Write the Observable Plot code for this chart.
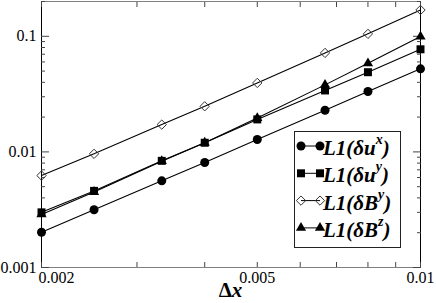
<!DOCTYPE html>
<html><head><meta charset="utf-8">
<script src="https://cdn.jsdelivr.net/npm/d3@7"></script>
<script src="https://cdn.jsdelivr.net/npm/@observablehq/plot@0.6"></script>
<style>
html,body{margin:0;padding:0;background:#fff;}
#chart{width:436px;height:303px;}
</style></head><body><div id="chart"></div>
<script>
// ---- data ----
const deltaX = [0.002, 0.0025, 0.003333, 0.004, 0.005, 0.006667, 0.008, 0.01];
const L1_ux = [0.00202, 0.00316, 0.00562, 0.0081, 0.0128, 0.0229, 0.0333, 0.0523];
const L1_uy = [0.00300, 0.00460, 0.00837, 0.0120, 0.0191, 0.0340, 0.0489, 0.0772];
const L1_By = [0.00624, 0.00962, 0.01723, 0.0248, 0.0395, 0.0718, 0.105, 0.169];
const L1_Bz = [0.00288, 0.00450, 0.00832, 0.0120, 0.0196, 0.0380, 0.0584, 0.0994];
const seriesPrefix = ["L1(", "L1(", "L1(", "L1("];
const seriesBase = ["δu", "δu", "δB", "δB"];
const seriesSup = ["x", "y", "y", "z"];
const xTickValues = [0.002, 0.005, 0.01];
const xTickLabels = ["0.002", "0.005", "0.01"];
const xMinorTicks = [0.003, 0.004, 0.006, 0.007, 0.008, 0.009];
const yTickValues = [0.001, 0.01, 0.1];
const yTickLabels = ["0.001", "0.01", "0.1"];
const yMinorTicks = [0.002,0.003,0.004,0.005,0.006,0.007,0.008,0.009,0.02,0.03,0.04,0.05,0.06,0.07,0.08,0.09,0.2];
const xDomain = [0.002, 0.01];
const yDomain = [0.001, 0.2];
const xLabelMain = "Δ";
const xLabelVar = "x";

// ---- styles ----
const seriesValues = [L1_ux, L1_uy, L1_By, L1_Bz];
const styles = [
  {symbol: "circle", r: 4.5, fill: "#000", stroke: "none"},
  {symbol: "square", r: 4.5, fill: "#000", stroke: "none"},
  {symbol: "diamond2", r: 4.2, fill: "none", stroke: "#333", strokeWidth: 1},
  {symbol: "triangle", r: 3.8, fill: "#000", stroke: "none"}
];
const d3Symbols = {circle: d3.symbolCircle, square: d3.symbolSquare, diamond2: d3.symbolDiamond2, triangle: d3.symbolTriangle};

const tables = seriesValues.map((vals, s) => deltaX.map((x, i) => ({x, y: vals[i], s})));
const serif = "'Liberation Serif', 'Times New Roman', serif";

function xLabelIdx(v) { return xTickLabels[xTickValues.indexOf(v)]; }
function yLabelIdx(v) { return yTickLabels[yTickValues.indexOf(v)]; }

function annotations(index, scales, values, dims) {
  const g = d3.create("svg:g");
  const right = dims.width - dims.marginRight;
  const bottom = dims.height - dims.marginBottom;
  // x axis label
  const cx = (dims.marginLeft + right) / 2;
  const t = g.append("text").attr("x", cx).attr("y", bottom + 30)
    .attr("text-anchor", "middle").attr("font-family", serif)
    .attr("font-size", 21).attr("font-weight", "bold").attr("fill", "#000");
  t.append("tspan").text(xLabelMain);
  t.append("tspan").attr("font-style", "italic").text(xLabelVar);
  // legend
  const bw = 106, bh = 116;
  const bx = right - 20 - bw, by = bottom - 20 - bh;
  g.append("rect").attr("x", bx + 0.5).attr("y", by + 0.5).attr("width", bw).attr("height", bh)
    .attr("fill", "#fff").attr("stroke", "#222").attr("stroke-width", 1);
  seriesBase.forEach((base, i) => {
    const cy = by + 15 + i * 27.3;
    const x1 = bx + 7, x2 = bx + 26;
    g.append("line").attr("x1", x1).attr("x2", x2).attr("y1", cy).attr("y2", cy)
      .attr("stroke", "#000").attr("stroke-width", 1);
    const st = styles[i];
    const size = st.r * st.r * Math.PI;
    const path = d3.symbol(d3Symbols[st.symbol], size)();
    [x1, x2].forEach(px => {
      g.append("path").attr("d", path).attr("transform", `translate(${px},${cy})`)
        .attr("fill", st.fill).attr("stroke", st.stroke).attr("stroke-width", st.strokeWidth || 0);
    });
    const tx = g.append("text").attr("x", bx + 29).attr("y", cy + 9)
      .attr("text-anchor", "start")
      .attr("font-family", serif).attr("font-size", 21).attr("font-weight", "bold")
      .attr("font-style", "italic").attr("fill", "#000");
    tx.append("tspan").text(seriesPrefix[i] + base);
    tx.append("tspan").attr("dy", -11).attr("font-size", 14).text(seriesSup[i]);
    tx.append("tspan").attr("dy", 11).text(")");
  });
  return g.node();
}

const marks = [
  Plot.ruleY(yDomain, {stroke: "#808080"}),
  Plot.ruleX(xDomain, {stroke: "#000"}),
  // inward ticks
  Plot.axisY(yTickValues, {anchor: "left", tickSize: -8, fill: "none", label: null, stroke: "#444"}),
  Plot.axisY(yMinorTicks, {anchor: "left", tickSize: -4, fill: "none", label: null, stroke: "#444"}),
  Plot.axisY(yTickValues, {anchor: "right", tickSize: -8, fill: "none", label: null, stroke: "#444"}),
  Plot.axisY(yMinorTicks, {anchor: "right", tickSize: -4, fill: "none", label: null, stroke: "#444"}),
  Plot.axisX(xTickValues, {anchor: "bottom", tickSize: -5, fill: "none", label: null, stroke: "#444"}),
  Plot.axisX(xMinorTicks, {anchor: "bottom", tickSize: -5, fill: "none", label: null, stroke: "#444"}),
  Plot.axisX(xTickValues, {anchor: "top", tickSize: -5, fill: "none", label: null, stroke: "#444"}),
  Plot.axisX(xMinorTicks, {anchor: "top", tickSize: -5, fill: "none", label: null, stroke: "#444"}),
  // tick labels
  Plot.axisY(yTickValues, {anchor: "left", tickSize: 0, tickPadding: 5, tickFormat: yLabelIdx, label: null, fontSize: 16}),
  Plot.axisX(xTickValues.slice(1), {anchor: "bottom", tickSize: 0, tickPadding: 4, tickFormat: xLabelIdx, label: null, fontSize: 16}),
  Plot.axisX(xTickValues.slice(0, 1), {anchor: "bottom", tickSize: 0, tickPadding: 4, dx: 15, tickFormat: xLabelIdx, label: null, fontSize: 16}),
  // series
  ...tables.map(t => Plot.line(t, {x: "x", y: "y", stroke: "#000", strokeWidth: 1.1})),
  ...tables.map((t, s) => Plot.dot(t, {x: "x", y: "y", ...styles[s]})),
  annotations
];

const chart = Plot.plot({
  width: 436, height: 303,
  marginLeft: 41, marginRight: 16, marginTop: 1, marginBottom: 36,
  style: {fontFamily: serif, fontSize: "16px", background: "#fff", color: "#000", overflow: "visible"},
  x: {type: "log", domain: xDomain, axis: null},
  y: {type: "log", domain: yDomain, axis: null},
  marks
});
document.getElementById("chart").append(chart);
</script></body></html>
